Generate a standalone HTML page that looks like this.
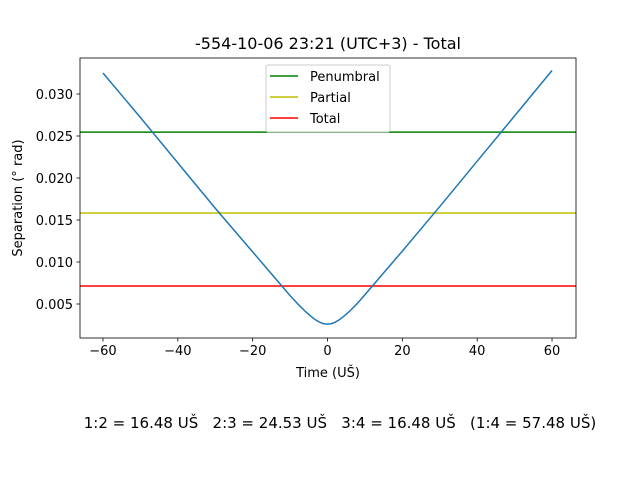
<!DOCTYPE html>
<html><head><meta charset="utf-8"><style>
body{margin:0;background:#fff;}
svg text{font-family:"DejaVu Sans","Liberation Sans",sans-serif;fill:#000;}
</style></head><body>
<svg id="chart" width="640" height="480" viewBox="0 0 640 480" xmlns="http://www.w3.org/2000/svg">
<rect width="640" height="480" fill="#fff"/>
<text x="328" y="49" font-size="16" text-anchor="middle">-554-10-06 23:21 (UTC+3) - Total</text>
<g id="plot"></g>
<text x="328" y="377" font-size="13" text-anchor="middle">Time (UŠ)</text>
<text transform="translate(22,198) rotate(-90)" font-size="13" text-anchor="middle">Separation (° rad)</text>
<text x="340" y="428" font-size="15" text-anchor="middle" xml:space="preserve">1:2 = 16.48 UŠ   2:3 = 24.53 UŠ   3:4 = 16.48 UŠ   (1:4 = 57.48 UŠ)</text>
</svg>
<script>
const times=[-60,-50,-40,-30,-20,-15,-10,-8,-6,-4,-3,-2,-1,0,1,2,3,4,6,8,10,15,20,30,40,50,60];
const separation=[0.0325,0.0272,0.0218,0.0164,0.0112,0.0086,0.0060,0.00504,0.00415,0.00338,0.00306,0.00281,0.00265,0.0026,0.00265,0.00282,0.00308,0.0034,0.00418,0.00508,0.0061,0.0087,0.0113,0.0166,0.0220,0.0274,0.0328];
const xTicks=[-60,-40,-20,0,20,40,60];
const yTicks=[0.005,0.010,0.015,0.020,0.025,0.030];
const thresholdNames=["Penumbral","Partial","Total"];
const thresholdValues=[0.02546,0.01583,0.00714];
const thresholdColors=["#008000","#bfbf00","#ff0000"];

const L=80,R=576,T=58,B=338;
const xs=v=>327.5+v*3.742;
const ys=v=>304-(v-0.005)*8400;
const NS="http://www.w3.org/2000/svg";
const g=document.getElementById('plot');
function mk(tag,attrs,parent){const e=document.createElementNS(NS,tag);for(const k in attrs)e.setAttribute(k,attrs[k]);(parent||g).appendChild(e);return e;}

const clip=mk('clipPath',{id:'clipArea'});
mk('rect',{x:L,y:T,width:R-L,height:B-T},clip);

thresholdValues.forEach((v,i)=>{
  const l=mk('line',{x1:L,x2:R,y1:ys(v),y2:ys(v),stroke:thresholdColors[i],'stroke-width':1.5,'clip-path':'url(#clipArea)'});
  
  
});

const d=times.map((t,i)=>(i?'L':'M')+xs(t).toFixed(2)+','+ys(separation[i]).toFixed(2)).join(' ');
const p=mk('path',{d:d,fill:'none',stroke:'#1f77b4','stroke-width':1.5,'stroke-linejoin':'round'});



const frame=mk('rect',{x:L,y:T,width:R-L,height:B-T,fill:'none',stroke:'#000','stroke-width':0.8});



xTicks.forEach(v=>{
  const x=xs(v);
  mk('line',{x1:x,x2:x,y1:B,y2:B+3.5,stroke:'#000','stroke-width':0.8});
  const t=mk('text',{x:x,y:B+17,'font-size':13,'text-anchor':'middle'});
  t.textContent=(v<0?'\u2212'+(-v):v);
  
  
});
yTicks.forEach(v=>{
  const y=ys(v);
  mk('line',{x1:L-3.5,x2:L,y1:y,y2:y,stroke:'#000','stroke-width':0.8});
  const t=mk('text',{x:L-7,y:y+5,'font-size':13,'text-anchor':'end'});
  t.textContent=v.toFixed(3);
  
  
});

const lg=mk('g',{});


mk('rect',{x:266,y:65,width:124,height:67,rx:2,fill:'#fff','fill-opacity':0.8,stroke:'#ccc','stroke-width':1},lg);
thresholdNames.forEach((n,i)=>{
  const y=76+i*21;
  mk('line',{x1:270,x2:298,y1:y,y2:y,stroke:thresholdColors[i],'stroke-width':1.5},lg);
  const t=mk('text',{x:310,y:y+5,'font-size':13},lg);
  t.textContent=n;
  
  
});
</script>
</body></html>
